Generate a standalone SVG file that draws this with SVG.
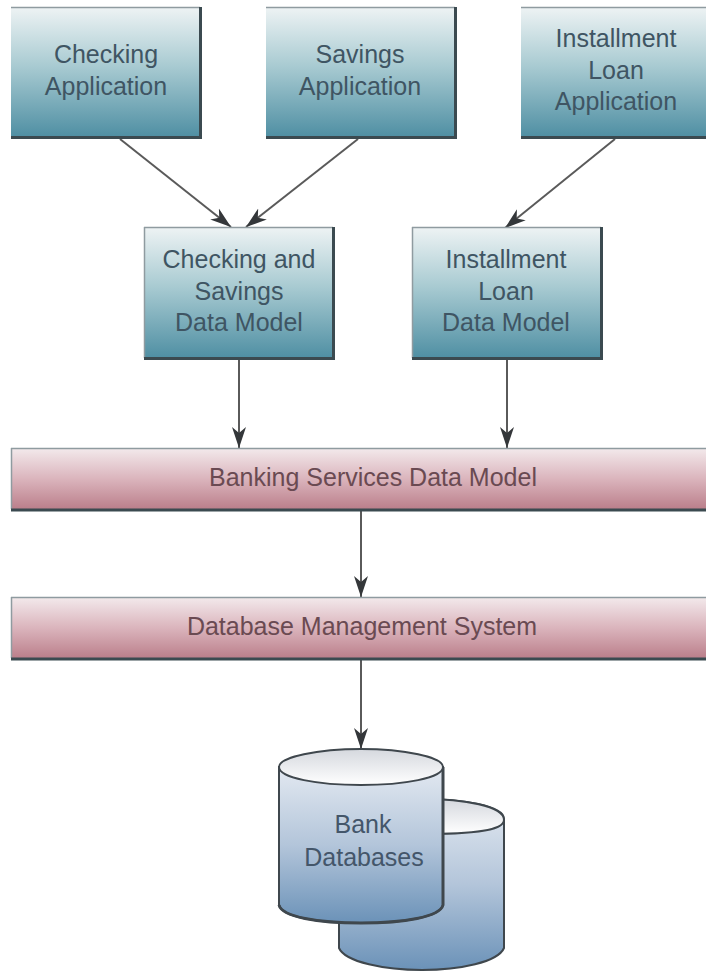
<svg xmlns="http://www.w3.org/2000/svg" width="706" height="972" viewBox="0 0 706 972">
<defs>
<linearGradient id="teal" x1="0" y1="0" x2="0" y2="1"><stop offset="0" stop-color="#eef3f4"/><stop offset="0.45" stop-color="#a9cbd2"/><stop offset="1" stop-color="#4f8fa3"/></linearGradient>
<linearGradient id="rose" x1="0" y1="0" x2="0" y2="1"><stop offset="0" stop-color="#f3eaec"/><stop offset="0.5" stop-color="#dbb5bd"/><stop offset="1" stop-color="#bb7f8b"/></linearGradient>
<linearGradient id="blue" x1="0" y1="0" x2="0" y2="1"><stop offset="0" stop-color="#e3e9f1"/><stop offset="0.5" stop-color="#b3c5da"/><stop offset="1" stop-color="#6b92b8"/></linearGradient>
<linearGradient id="cap" x1="0" y1="0" x2="0" y2="1"><stop offset="0" stop-color="#d5d8de"/><stop offset="1" stop-color="#ffffff"/></linearGradient>
<marker id="arrow" markerUnits="userSpaceOnUse" markerWidth="24" markerHeight="16" refX="21" refY="8" orient="auto"><path d="M0 1 L21 8 L0 15 L6 8 Z" fill="#34373a"/></marker>
</defs>
<style>
.t{font-family:"Liberation Sans",Arial,sans-serif;font-size:25px;text-anchor:middle;fill:#3f5563}
.r{fill:#6a4a52}
.d{fill:#44566a}
.c{stroke:#5a5a5a;stroke-width:2;fill:none;marker-end:url(#arrow)}
.box{fill:url(#teal)}
.bar{fill:url(#rose)}
.e1{stroke:#3b4a50;stroke-width:3;fill:none}
.e2{stroke:#8f9ba0;stroke-width:1.5;fill:none}
.cy{stroke:#3f474d;stroke-width:2}
</style>
<rect width="706" height="972" fill="#fff"/>
<g id="connectors">
<path class="c" d="M120 139 L231 227"/>
<path class="c" d="M358 139 L246 227"/>
<path class="c" d="M615 139 L505 228"/>
<path class="c" d="M239 358 L239 448"/>
<path class="c" d="M507 358 L507 448"/>
<path class="c" d="M361 511 L361 597"/>
<path class="c" d="M361 660 L361 749"/>
</g>
<g id="checking-app"><rect class="box" x="11" y="7" width="189" height="130"/><path class="e2" d="M11 7.500H200"/><path class="e1" d="M200.500 7V137.500H11"/><text class="t" x="106" y="63">Checking</text><text class="t" x="106" y="95">Application</text></g>
<g id="savings-app"><rect class="box" x="266" y="7" width="189" height="130"/><path class="e2" d="M266 7.500H455"/><path class="e1" d="M455.500 7V137.500H266"/><text class="t" x="360" y="63">Savings</text><text class="t" x="360" y="95">Application</text></g>
<g id="installment-app"><rect class="box" x="521" y="7" width="185" height="130"/><path class="e2" d="M521 7.500H706"/><path class="e1" d="M521 137.500H706"/><text class="t" x="616" y="47">Installment</text><text class="t" x="616" y="79">Loan</text><text class="t" x="616" y="110">Application</text></g>
<g id="checking-model"><rect class="box" x="144" y="227" width="189" height="131"/><path class="e2" d="M144 227.500H333M144.500 227V358"/><path class="e1" d="M333.500 227V358.500H144"/><text class="t" x="239" y="268">Checking and</text><text class="t" x="239" y="300">Savings</text><text class="t" x="239" y="331">Data Model</text></g>
<g id="installment-model"><rect class="box" x="412" y="227" width="189" height="131"/><path class="e2" d="M412 227.500H601M412.500 227V358"/><path class="e1" d="M601.500 227V358.500H412"/><text class="t" x="506" y="268">Installment</text><text class="t" x="506" y="300">Loan</text><text class="t" x="506" y="331">Data Model</text></g>
<g id="banking-services"><rect class="bar" x="11" y="448" width="695" height="61"/><path class="e2" d="M11 448.500H706M11.500 448V509"/><path class="e1" d="M11 510H706"/><text class="t r" x="373" y="486">Banking Services Data Model</text></g>
<g id="dbms"><rect class="bar" x="11" y="597" width="695" height="61"/><path class="e2" d="M11 597.500H706M11.500 597V658"/><path class="e1" d="M11 659H706"/><text class="t r" x="362" y="635">Database Management System</text></g>
<g id="bank-databases">
<g id="db-back"><path class="cy" fill="url(#blue)" d="M339 800 V948 C345 962 385 970 422 970 C460 970 498 962 504 948 V819 C504 805 460 799 420 799 Z"/><path class="cy" fill="url(#cap)" d="M339 820 C339 806 380 799 422 799 C464 799 504 806 504 820 C504 832 464 834 422 834 C380 834 339 832 339 820 Z"/></g>
<g id="db-front"><path class="cy" fill="url(#blue)" d="M279 767 V905 C282 917 318 923 361 923 C404 923 440 917 443 905 V767 Z"/><path fill="none" stroke="#3f474d" stroke-width="3" d="M279 905 C282 917 318 923 361 923 C404 923 440 917 443 905 V767"/><path class="cy" fill="url(#cap)" d="M279 767 C279 757 318 749 361 749 C404 749 443 757 443 767 C443 778 404 785 361 785 C318 785 279 778 279 767 Z"/><text class="t d" x="363" y="833">Bank</text><text class="t d" x="364" y="866">Databases</text></g>
</g>
</svg>
